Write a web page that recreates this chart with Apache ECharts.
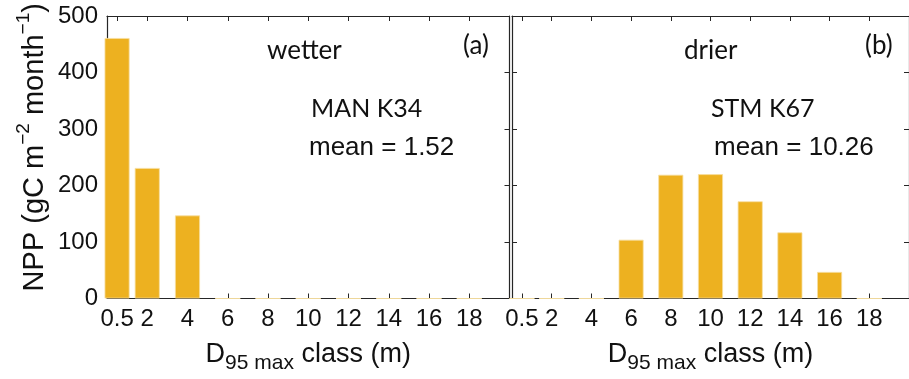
<!DOCTYPE html>
<html>
<head>
<meta charset="utf-8">
<script src="https://cdn.jsdelivr.net/npm/echarts@6/dist/echarts.min.js"></script>
<style>
  html, body { margin: 0; padding: 0; background: #fff; }
  #chart { width: 909px; height: 379px; }
</style>
</head>
<body>
<div id="chart"></div>
<script>
// D95 max size classes (m) and NPP per class (gC m-2 month-1)
const sizeClasses = [0.5, 2, 4, 6, 8, 10, 12, 14, 16, 18];
const wetterNPP = [461, 231, 147, 0, 0, 0, 0, 0, 0, 0];   // MAN K34
const drierNPP  = [0, 0, 0, 104, 219, 220, 172, 117, 47, 0]; // STM K67
const xTickLabels = ['0.5', '2', '4', '6', '8', '10', '12', '14', '16', '18'];
const yTicks = [0, 100, 200, 300, 400, 500];

const AX = '#262626';
const BAR = '#EDB120';
const SANS = '"Liberation Sans", Arial, Helvetica, sans-serif';
const CAL = 'Lato, "Open Sans", sans-serif';

const chart = echarts.init(document.getElementById('chart'), null, { renderer: 'canvas' });

const lineStyle = { color: AX, width: 1.2 };

function xAxisFor(grid, position, withLabels) {
  const ax = {
    type: 'value', gridIndex: grid, position: position,
    min: 0, max: 20,
    axisLine: { show: true, onZero: false, lineStyle: lineStyle },
    axisTick: { show: true, inside: true, length: 5, customValues: sizeClasses, lineStyle: { color: AX, width: 1 } },
    axisLabel: {
      show: withLabels, customValues: sizeClasses,
      formatter: v => xTickLabels[sizeClasses.indexOf(v)] ?? '',
      fontFamily: SANS, fontSize: 24, color: '#111', margin: 9, hideOverlap: false
    },
    splitLine: { show: false }
  };
  if (withLabels) {
    ax.name = '{m|D}{s|95 max}{m| class (m)}';
    ax.nameLocation = 'middle';
    ax.nameGap = 43;
    ax.nameTextStyle = {
      rich: {
        m: { fontFamily: SANS, fontSize: 27, color: '#111', lineHeight: 30, verticalAlign: 'top' },
        s: { fontFamily: SANS, fontSize: 21, color: '#111', lineHeight: 22, padding: [14, 0, 0, 0] }
      }
    };
  }
  return ax;
}

function yAxisFor(grid, position, withLabels) {
  const ax = {
    type: 'value', gridIndex: grid, position: position,
    min: 0, max: 500, interval: 100,
    axisLine: { show: true, onZero: false, lineStyle: lineStyle },
    axisTick: { show: true, inside: true, length: 5, lineStyle: { color: AX, width: 1 } },
    axisLabel: { show: withLabels, fontFamily: SANS, fontSize: 24, color: '#111', margin: 9,
      formatter: v => yTicks.includes(v) ? String(v) : '' },
    splitLine: { show: false }
  };
  if (withLabels) {
    ax.name = '{m|NPP (gC m}{s|−2}{m| month}{s|−1}{m|)}';
    ax.nameLocation = 'middle';
    ax.nameGap = 58;
    ax.nameTextStyle = {
      padding: [0, 0, 0, 20],
      rich: {
        m: { fontFamily: SANS, fontSize: 29, color: '#111', lineHeight: 35, verticalAlign: 'bottom' },
        s: { fontFamily: SANS, fontSize: 19, color: '#111', lineHeight: 20, verticalAlign: 'top' }
      }
    };
  }
  return ax;
}

function barSeries(xi, yi, values) {
  return {
    type: 'bar', xAxisIndex: xi, yAxisIndex: yi,
    barWidth: 25, clip: true,
    itemStyle: { color: BAR, borderColor: '#f6dea0', borderWidth: 0.8 },
    data: sizeClasses.map((c, i) => [c, values[i]])
  };
}

function note(text, x, y, font, size) {
  return { type: 'text', left: x, top: y, style: { text: text, font: size + 'px ' + font, fill: '#111' } };
}

chart.setOption({
  animation: false,
  backgroundColor: '#fff',
  grid: [
    { left: 107, top: 16, width: 402.5, height: 284 },
    { left: 512, top: 16, width: 403, height: 284 }
  ],
  xAxis: [
    xAxisFor(0, 'bottom', true),
    xAxisFor(0, 'top', false),
    xAxisFor(1, 'bottom', true),
    xAxisFor(1, 'top', false)
  ],
  yAxis: [
    yAxisFor(0, 'left', true),
    yAxisFor(0, 'right', false),
    yAxisFor(1, 'left', false),
    yAxisFor(1, 'right', false)
  ],
  series: [
    barSeries(0, 0, wetterNPP),
    barSeries(2, 2, drierNPP)
  ],
  graphic: [
    note('wetter', 267, 38, CAL, 26),
    note('(a)', 463, 33, CAL, 26),
    note('MAN K34', 311, 96, CAL, 25),
    note('mean = 1.52', 309, 135, SANS, 26),
    note('drier', 684, 38, CAL, 26),
    note('(b)', 865, 33, CAL, 26),
    note('STM K67', 711, 96, CAL, 25),
    note('mean = 10.26', 714, 135, SANS, 26)
  ]
});
</script>
</body>
</html>
